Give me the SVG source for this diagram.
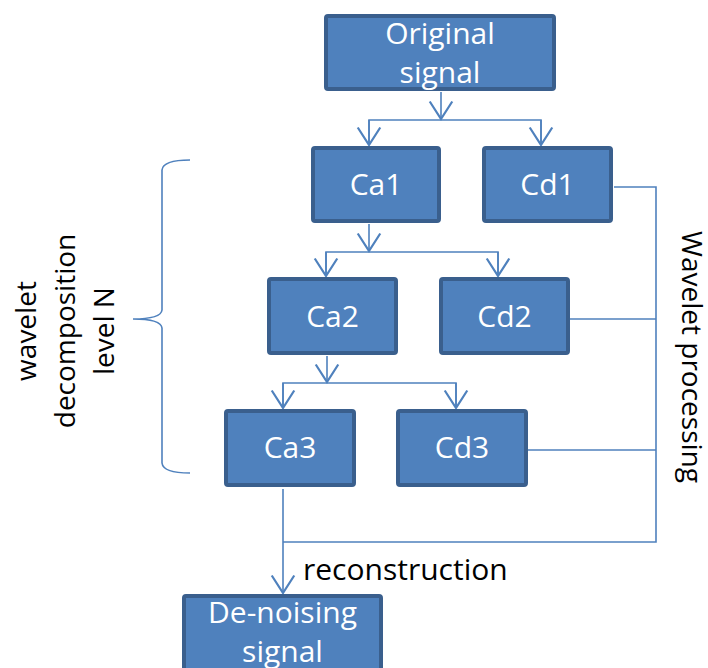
<svg xmlns="http://www.w3.org/2000/svg" width="708" height="668" viewBox="0 0 708 668">
<defs>
<style>
.box{fill:#4F81BD;stroke:#3A5F8D;stroke-width:4}
.lbl{font-family:"Open Sans","Liberation Sans",sans-serif;font-size:30px;fill:#fff;text-anchor:middle}
.side{font-family:"Open Sans","Liberation Sans",sans-serif;font-size:28px;fill:#000;text-anchor:middle}
.txt{font-family:"Open Sans","Liberation Sans",sans-serif;font-size:30px;fill:#000}
.ln{fill:none;stroke:#4F81BD;stroke-width:1.6}
</style>
<marker id="ah" markerUnits="userSpaceOnUse" markerWidth="30" markerHeight="30" viewBox="-16 -12 20 24" refX="0" refY="0" orient="auto">
<path d="M-14,-9 L0,0 L-14,9" fill="none" stroke="#4F81BD" stroke-width="1.8"/>
</marker>
</defs>
<rect width="708" height="668" fill="#fff"/>
<g id="connectors">
<path class="ln" d="M441,92 V119" marker-end="url(#ah)"/>
<path class="ln" d="M369,145 V120 H541 V145"/>
<path class="ln" d="M369,120 V145" marker-end="url(#ah)"/>
<path class="ln" d="M541,120 V145" marker-end="url(#ah)"/>
<path class="ln" d="M369,224 V251" marker-end="url(#ah)"/>
<path class="ln" d="M326,276 V252 H498 V276"/>
<path class="ln" d="M326,252 V276" marker-end="url(#ah)"/>
<path class="ln" d="M498,252 V276" marker-end="url(#ah)"/>
<path class="ln" d="M327,356 V382" marker-end="url(#ah)"/>
<path class="ln" d="M283,408 V383 H456 V408"/>
<path class="ln" d="M283,383 V408" marker-end="url(#ah)"/>
<path class="ln" d="M456,383 V408" marker-end="url(#ah)"/>
<path class="ln" d="M283,489 V593" marker-end="url(#ah)"/>
<path class="ln" d="M283,542 H656 V187 H614"/>
<path class="ln" d="M570,319 H656"/>
<path class="ln" d="M528,450 H656"/>
<path class="ln" d="M190,160 Q163,160 162,170 V310 Q161,319 133,319 Q161,319 162,328 V463 Q163,473 190,473"/>
</g>
<g id="original">
<rect class="box" x="326" y="16" width="228" height="73" rx="2"/>
<text class="lbl" x="440" y="44">Original</text>
<text class="lbl" x="440" y="83">signal</text>
</g>
<g id="ca1"><rect class="box" x="313" y="148" width="126" height="73" rx="2"/><text class="lbl" x="376" y="195">Ca1</text></g>
<g id="cd1"><rect class="box" x="484" y="148" width="127" height="73" rx="2"/><text class="lbl" x="547.5" y="195">Cd1</text></g>
<g id="ca2"><rect class="box" x="269" y="279" width="127" height="74" rx="2"/><text class="lbl" x="332.5" y="327">Ca2</text></g>
<g id="cd2"><rect class="box" x="441" y="279" width="127" height="74" rx="2"/><text class="lbl" x="504.5" y="327">Cd2</text></g>
<g id="ca3"><rect class="box" x="226" y="411" width="128" height="74" rx="2"/><text class="lbl" x="290" y="458">Ca3</text></g>
<g id="cd3"><rect class="box" x="398" y="411" width="128" height="74" rx="2"/><text class="lbl" x="462" y="458">Cd3</text></g>
<g id="denoising">
<rect class="box" x="184" y="596" width="197" height="82" rx="2"/>
<text class="lbl" x="282.5" y="623">De-noising</text>
<text class="lbl" x="282.5" y="662">signal</text>
</g>
<g id="labels">
<text class="txt" x="303" y="580">reconstruction</text>
<g transform="translate(0,331) rotate(-90)">
<text class="side" x="0" y="36">wavelet</text>
<text class="side" x="0" y="75">decomposition</text>
<text class="side" x="0" y="114">level N</text>
</g>
<text class="side" transform="translate(682,357) rotate(90)" x="0" y="0">Wavelet processing</text>
</g>
</svg>
